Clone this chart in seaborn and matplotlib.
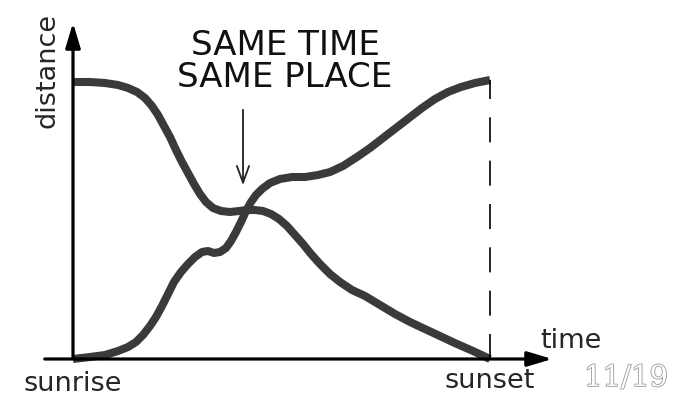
import pandas as pd
import matplotlib.pyplot as plt
import matplotlib.patheffects as pe
import seaborn as sns

sns.set_style("white")
plt.rcParams["font.family"] = ["DejaVu Sans"]

# time from sunrise (0) to sunset (417), distance up the path (0 .. 279), arbitrary units
down_time = [0, 17, 32, 45, 55, 64, 72, 79, 85, 91, 97, 103, 109, 115, 121, 127, 133, 140, 148,
             157, 166, 174, 182, 190, 198, 206, 214, 222, 230, 238, 247, 257, 267, 279, 292,
             307, 322, 337, 354, 369, 384, 400, 417]
down_dist = [277, 277, 276, 274, 271, 267, 261, 253, 244, 233, 222, 209, 197, 186, 175, 165,
             157, 151, 148, 147, 148, 149, 149, 148, 145, 140, 133, 124, 115, 105, 95, 85, 77,
             69, 63, 54, 45, 37, 29, 22, 15, 8, 0]
up_time = [0, 17, 32, 45, 55, 63, 70, 77, 83, 89, 95, 101, 108, 115, 122, 129, 135, 141, 147,
           153, 158, 163, 168, 173, 178, 183, 189, 197, 207, 219, 232, 245, 257, 270, 284, 297,
           310, 323, 336, 349, 362, 375, 388, 402, 417]
up_dist = [0, 2, 4, 8, 12, 17, 24, 33, 42, 53, 65, 77, 87, 95, 102, 107, 108, 106, 107, 111,
           118, 127, 137, 148, 157, 164, 170, 176, 180, 182, 182, 184, 187, 193, 202, 211, 221,
           231, 241, 251, 260, 267, 272, 276, 279]
sunset = 417
top = 279
meet_time = 170

df = pd.concat([
    pd.DataFrame({"time": down_time, "distance": down_dist, "walk": "down"}),
    pd.DataFrame({"time": up_time, "distance": up_dist, "walk": "up"}),
])

fig = plt.figure(figsize=(6.83, 3.96), dpi=100)
ax = fig.add_axes([0, 0, 1, 1])
sns.lineplot(data=df, x="time", y="distance", hue="walk", palette=["#3a3a3a", "#3a3a3a"],
             sort=False, estimator=None, legend=False, lw=5.8, ax=ax,
             solid_capstyle="butt", solid_joinstyle="round")

ax.set_xlim(-73, 610)
ax.set_ylim(-37, 359)
ax.axis("off")

# axes with arrows
ax.annotate("", xy=(0, 339), xytext=(0, -1),
            arrowprops=dict(arrowstyle="-|>,head_length=1.5,head_width=0.45", lw=2.3, color="black"))
ax.annotate("", xy=(482, 0), xytext=(-31, 0),
            arrowprops=dict(arrowstyle="-|>,head_length=1.5,head_width=0.45", lw=2.3, color="black"))
ax.vlines(sunset, 0, top, colors="black", lw=1.2, linestyles=(0, (15, 11)))

ax.annotate("", xy=(meet_time, 171), xytext=(meet_time, 252),
            arrowprops=dict(arrowstyle="->,head_length=0.6,head_width=0.22", lw=1.3,
                            color="#222222", mutation_scale=20))
ax.text(212, 297.5, "SAME TIME\nSAME PLACE", ha="center", va="center", fontsize=24.5,
        linespacing=0.95, color="#111111")

ax.text(-25, 289, "distance", rotation=90, ha="center", va="center", fontsize=19.5)
ax.text(498, 11, "time", ha="center", va="baseline", fontsize=19.5)
ax.text(0, -32, "sunrise", ha="center", va="baseline", fontsize=19.5)
ax.text(sunset, -29, "sunset", ha="center", va="baseline", fontsize=19.5)
ax.text(553, -27, "11/19", ha="center", va="baseline", fontsize=21, family="DejaVu Serif",
        color="white", path_effects=[pe.withStroke(linewidth=1.2, foreground="#9a9a9a")])

plt.savefig("out.png", dpi=100)
